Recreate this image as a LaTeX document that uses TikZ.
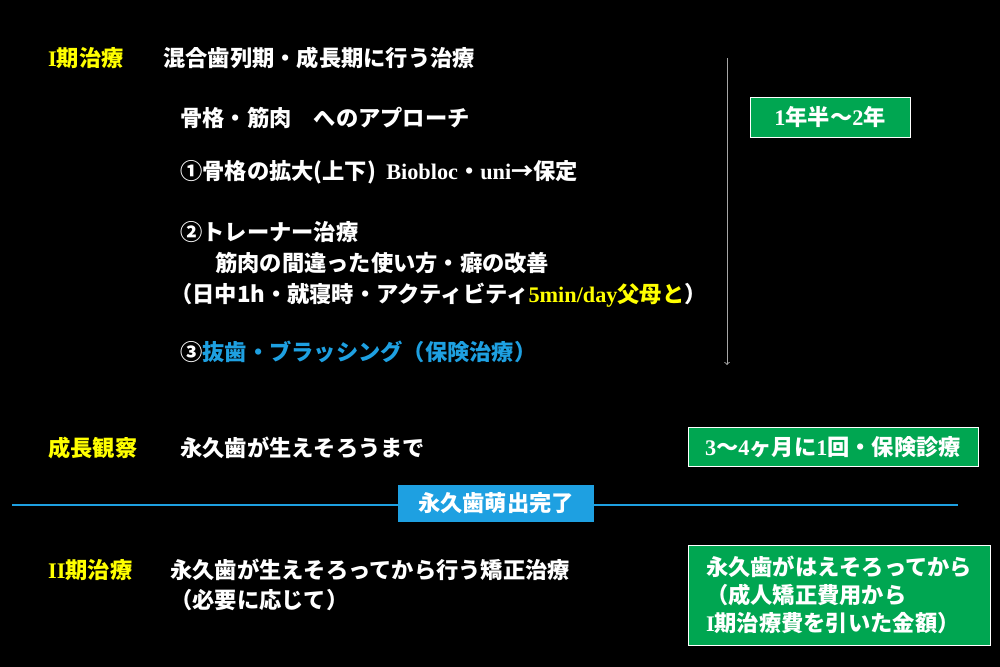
\documentclass[tikz,border=0pt]{standalone}
\usepackage{fontspec}
\setmainfont{Liberation Serif}
\newfontfamily\jp{Noto Sans CJK JP}
\definecolor{kigreen}{RGB}{0,166,81}
\definecolor{kiblue}{RGB}{30,160,225}
\definecolor{kiyellow}{RGB}{255,255,0}
\tikzset{
  txt/.style={anchor=west,inner sep=0pt,text=white,font=\fontsize{19}{24}\selectfont\bfseries\jp},
  head/.style={txt,text=kiyellow},
  gbox/.style={fill=kigreen,draw=white,line width=0.6pt,inner sep=0pt,text=white,font=\fontsize{19}{24}\selectfont\bfseries\jp}
}
\begin{document}
\begin{tikzpicture}[x=0.03cm,y=-0.03cm]
  \fill[black] (0,0) rectangle (1000,667);
  \useasboundingbox (0,0) rectangle (1000,667);

  % I period
  \node[head] (h1) at (48,58) {{\rmfamily I}期治療};
  \node[txt] (t1) at (163,58) {混合歯列期・成長期に行う治療};
  \node[txt] (a0) at (180,118) {骨格・筋肉\quad へのアプローチ};
  \node[txt] (a1) at (180,172) {①骨格の拡大(上下)\ \ {\rmfamily Biobloc}・{\rmfamily uni}→保定};
  \node[txt] (a2) at (180,232) {②トレーナー治療};
  \node[txt] (a3) at (215,263) {筋肉の間違った使い方・癖の改善};
  \node[txt] (a4) at (170,295) {（日中1h・就寝時・アクティビティ\textcolor{kiyellow}{{\rmfamily 5min/day}父母と}）};
  \node[txt] (a5) at (180,352) {③\textcolor{kiblue}{抜歯・ブラッシング（保険治療）}};

  \coordinate (top) at (727,58);
  \coordinate (bot) at (727,365);
  \draw[gray!70,line width=0.8pt,->] (top) -- (bot);
  \node[gbox,minimum width=160*0.03cm,minimum height=40*0.03cm] (g1) at (830,117) {{\rmfamily 1}年半～{\rmfamily 2}年};

  % growth observation
  \node[head] (h2) at (48,448) {成長観察};
  \node[txt] (t2) at (180,448) {永久歯が生えそろうまで};
  \node[gbox,minimum width=290*0.03cm,minimum height=39*0.03cm] (g2) at (833,447) {{\rmfamily 3}～{\rmfamily 4}ヶ月に{\rmfamily 1}回・保険診療};

  % divider
  \coordinate (l) at (12,505);
  \coordinate (r) at (958,505);
  \draw[kiblue,line width=1pt] (l) -- (r);
  \node[fill=kiblue,text=white,inner sep=0pt,minimum width=196*0.03cm,minimum height=37*0.03cm,font=\fontsize{19}{24}\selectfont\bfseries\jp] (mid) at (496,503) {永久歯萌出完了};

  % II period
  \node[head] (h3) at (48,570) {{\rmfamily II}期治療};
  \node[txt] (t3) at (170,570) {永久歯が生えそろってから行う矯正治療};
  \node[txt] (t4) at (170,600) {（必要に応じて）};
  \node[gbox,minimum width=302*0.03cm,minimum height=100*0.03cm,align=left] (g3) at (839,595)
    {永久歯がはえそろってから\\（成人矯正費用から\\{\rmfamily I}期治療費を引いた金額）};
\end{tikzpicture}
\end{document}
